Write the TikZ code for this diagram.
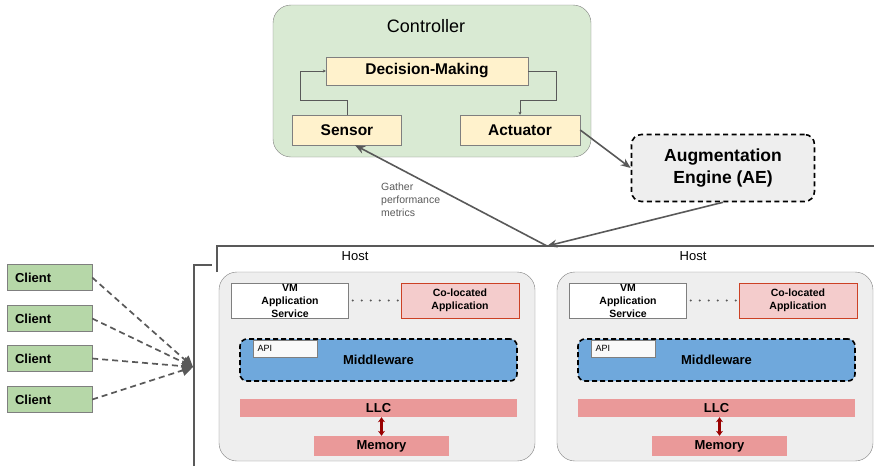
\documentclass[tikz,border=0pt]{standalone}
\usepackage{fontspec}
\setmainfont{Liberation Sans}
\usetikzlibrary{arrows.meta,positioning}

\definecolor{ctrlgreen}{HTML}{D9EAD3}
\definecolor{boxyellow}{HTML}{FFF2CC}
\definecolor{clientgreen}{HTML}{B6D7A8}
\definecolor{hostgray}{HTML}{EEEEEE}
\definecolor{bordergray}{HTML}{7F7F7F}
\definecolor{arrowgray}{HTML}{595959}
\definecolor{colofill}{HTML}{F4CCCC}
\definecolor{colodraw}{HTML}{CC4125}
\definecolor{mwblue}{HTML}{6FA8DC}
\definecolor{llcred}{HTML}{EA9999}
\definecolor{darkred}{HTML}{990000}

\tikzset{
  box/.style={draw=bordergray,inner sep=0pt,align=center},
  yellowbox/.style={box,fill=boxyellow,font=\bfseries\fontsize{15.5}{18}\selectfont},
  clientbox/.style={box,fill=clientgreen,minimum height=26pt,text width=69pt,inner xsep=8pt,
    align=left,font=\bfseries\fontsize{13}{15}\selectfont},
  hostbox/.style={box,fill=hostgray,rounded corners=18pt,minimum width=316pt,minimum height=189pt},
  appbox/.style={box,minimum width=118pt,minimum height=35pt,font=\bfseries\fontsize{10.5}{13}\selectfont},
  mwbox/.style={draw,line width=1.6pt,dash pattern=on 5pt off 3pt,fill=mwblue,rounded corners=7pt,minimum width=277pt,
    minimum height=42pt,font=\bfseries\fontsize{13}{15}\selectfont},
  cachebox/.style={fill=llcred,inner sep=0pt,font=\bfseries\fontsize{13}{15}\selectfont},
  thinarrow/.style={draw=arrowgray,-{Stealth[length=3pt,width=3pt]}},
  bigarrow/.style={draw=arrowgray,line width=1.6pt,-{Stealth[length=10pt,width=8pt]}},
  hostline/.style={draw=arrowgray,line width=1.3pt},
}

\begin{document}
\begin{tikzpicture}[x=1pt,y=-1pt]
  \useasboundingbox (0,0) rectangle (874,466);
  % Controller
  \node[box,fill=ctrlgreen,rounded corners=18pt,minimum width=318pt,minimum height=152pt] (ctrl) at (432,81) {};
  \node[font=\fontsize{18}{20}\selectfont] (ctrltitle) at (426,26) {Controller};
  \node[yellowbox,minimum width=202pt,minimum height=28pt] (dm) at (427,71) {Decision-Making};
  \node[yellowbox,minimum width=109pt,minimum height=30pt] (sensor) at (347,130) {Sensor};
  \node[yellowbox,minimum width=120pt,minimum height=30pt] (act) at (520,130) {Actuator};
  \draw[thinarrow] (sensor.north) -- ++(0,-15) -| ([xshift=-26pt]dm.west) -- (dm.west);
  \draw[thinarrow] (dm.east) -- ++(28,0) -- ++(0,29) -| (act.north);
  % AE
  \node[box,draw=black,line width=1.6pt,dash pattern=on 5pt off 3.5pt,fill=hostgray,rounded corners=10pt,
    minimum width=183pt,minimum height=67pt,font=\bfseries\fontsize{17.5}{22}\selectfont] (ae) at (723,168)
    {Augmentation\\Engine (AE)};
  \draw[bigarrow] (act.east) -- (ae.west);
  % Host bracket
  \draw[hostline] (194,466) -- (194,265) -- (212,265);
  \draw[hostline] (217,272) -- (217,246) -- (874,246);
  \coordinate (tap) at (547,246);
  \draw[bigarrow] (ae.south) -- (tap);
  \draw[bigarrow] (tap) -- ([xshift=8pt]sensor.south);
  \node[anchor=north west,align=left,text=arrowgray,inner sep=0pt,font=\fontsize{10.5}{13}\selectfont] (gather) at (381,183)
    {Gather\\performance\\metrics};
  % Clients
  \coordinate (hub) at (193,367);
  \foreach \i/\y in {1/277.5,2/318.5,3/358.5,4/399.5}{
    \node[clientbox] (c\i) at (49.5,\y) {Client};
    \draw[arrowgray,line width=1.7pt,dash pattern=on 6pt off 4pt,-{Triangle[length=11pt,width=11pt]}] (c\i.east) -- (hub);
  }
  % Hosts
  \foreach \h/\dx in {1/0,2/338}{
    \node[font=\fontsize{13}{15}\selectfont] (hostlabel\h) at (355+\dx,256) {Host};
    \node[hostbox] (host\h) at (377+\dx,366.5) {};
    \node[appbox,fill=white,minimum width=117pt] (vm\h) at (290+\dx,300.5) {VM\\Application\\Service};
    \node[appbox,fill=colofill,draw=colodraw,thick] (colo\h) at (460+\dx,300.5) {Co-located\\Application};
    \draw[arrowgray,line width=2.2pt,line cap=round,dash pattern=on 0pt off 9pt,shorten <=4pt,shorten >=1pt]
      (vm\h.east) -- (colo\h.west);
    \node[mwbox] (mw\h) at (378.5+\dx,360) {Middleware};
    \node[box,fill=white!95!gray,minimum width=64pt,minimum height=17pt,text width=55pt,inner xsep=4.5pt,align=left,
      font=\fontsize{9}{10}\selectfont] (api\h) at (285+\dx,348.5) {API};
    \node[cachebox,minimum width=277pt,minimum height=18pt] (llc\h) at (378.5+\dx,408) {LLC};
    \node[cachebox,minimum width=135pt,minimum height=20pt] (mem\h) at (381.5+\dx,446) {Memory};
    \draw[darkred,line width=2.6pt,{Stealth[length=5pt,width=7pt]}-{Stealth[length=5pt,width=7pt]}]
      (mem\h.north |- llc\h.south) -- (mem\h.north);
  }
\end{tikzpicture}
\end{document}
